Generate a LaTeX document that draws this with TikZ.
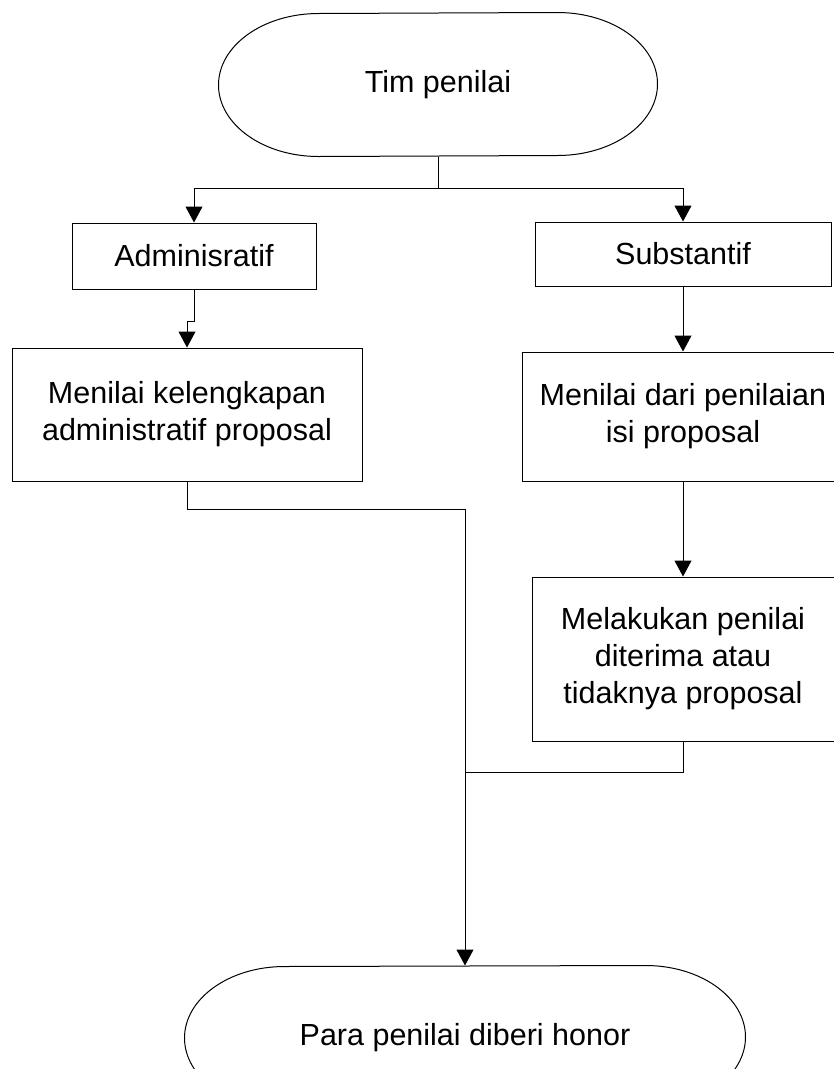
\documentclass[tikz,border=0pt]{standalone}
\usepackage{fontspec}
\setmainfont{Liberation Sans}
\usetikzlibrary{arrows.meta}
\tikzset{
  proc/.style={draw,line width=1pt,inner sep=2pt,align=center},
  term/.style={inner sep=0pt,align=center,minimum width=#1,minimum height=143pt},
  arr/.style={-{Triangle[length=16pt,width=17pt]}}
}
\newcommand{\termline}[1]{\draw[line width=1pt,line join=round,line cap=round] ([xshift=-100pt]#1.north east)
  arc[start angle=90,end angle=-90,x radius=100pt,y radius=71.5pt]
  -- ([xshift=100pt]#1.south west)
  arc[start angle=270,end angle=90,x radius=100pt,y radius=71.5pt]
  -- ([xshift=-100pt]#1.north east);}
\begin{document}
\begin{tikzpicture}[x=1pt,y=-1pt,line width=1pt,every node/.style={font=\fontsize{30.5}{37}\selectfont}]
\path[use as bounding box,clip] (0,0) rectangle (834,1069);
\node[term=438pt] (tim) at (438,84.5) {Tim penilai};
\termline{tim}
\node[proc,minimum width=244pt,minimum height=66pt] (adm) at (194,256) {Adminisratif};
\node[proc,minimum width=296pt,minimum height=64pt] (sub) at (683,254) {Substantif};
\node[proc,minimum width=350pt,minimum height=133pt] (kel) at (187,414.5) {Menilai kelengkapan\\administratif proposal};
\node[proc,minimum width=322pt,minimum height=129pt] (isi) at (683,416.5) {Menilai dari penilaian\\isi proposal};
\node[proc,minimum width=302pt,minimum height=164pt] (lak) at (683,659) {Melakukan penilai\\diterima atau\\tidaknya proposal};
\node[term=560pt] (honor) at (465,1037.5) {Para penilai diberi honor};
\termline{honor}
\coordinate (fork) at (438,188);
\coordinate (join1) at (465,509);
\coordinate (join2) at (465,772);
\draw (tim.south) -- (fork);
\draw[arr] (fork) -| (adm.north);
\draw[arr] (fork) -| (sub.north);
\draw[arr] (adm.south) -- ++(0,32) -| (kel.north);
\draw[arr] (sub.south) -- (isi.north);
\draw[arr] (isi.south) -- (lak.north);
\draw (kel.south) |- (join1);
\draw[arr] (join1) -- (honor.north);
\draw (lak.south) |- (join2);
\end{tikzpicture}
\end{document}
